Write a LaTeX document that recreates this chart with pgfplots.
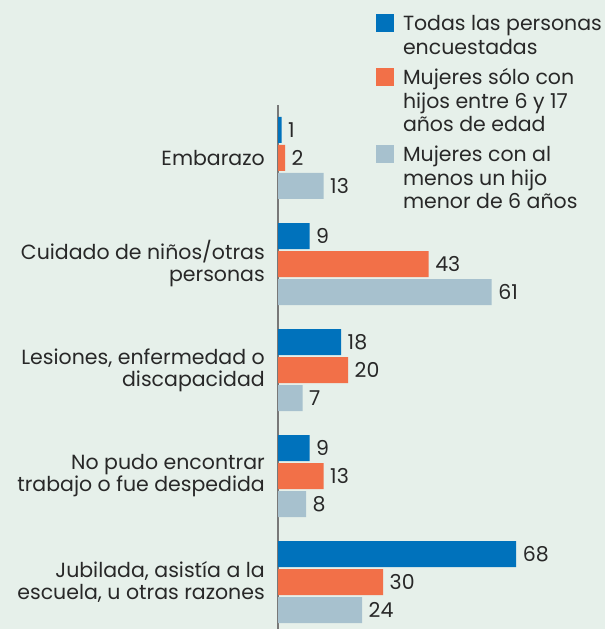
\documentclass[border=0pt]{standalone}
\usepackage{pgfplots}
\pgfplotsset{compat=1.18}
\usepackage{fontspec}
\setmainfont{Poppins}
\definecolor{bg}{RGB}{230,240,234}
\definecolor{cblue}{RGB}{0,114,188}
\definecolor{corange}{RGB}{242,112,72}
\definecolor{cgray}{RGB}{167,193,206}
\definecolor{txt}{RGB}{40,40,40}
\definecolor{axc}{RGB}{120,120,120}
\newcommand{\cf}{\fontsize{20.5}{22}\selectfont}
\newcommand{\lf}{\fontsize{20.5}{23.5}\selectfont}
\begin{document}
\begin{tikzpicture}[x=1pt,y=1pt]
\fill[bg] (0,0) rectangle (605,629);
\begin{axis}[
  at={(278pt,0pt)}, anchor=south west,
  scale only axis, width=327pt, height=524pt,
  xbar, bar width=26pt,
  xmin=0, xmax=93.4,
  ymin=-0.443, ymax=4.5,
  axis x line=none,
  axis y line*=left,
  y axis line style={draw=axc, line width=1.5pt},
  ytick={0,1,2,3,4},
  yticklabels={{Jubilada, asistía a la\\escuela, u otras razones},{No pudo encontrar\\trabajo o fue despedida},{Lesiones, enfermedad o\\discapacidad},{Cuidado de niños/otras\\personas},{Embarazo}},
  major tick length=0pt,
  yticklabel style={align=right, font=\cf, text=txt, inner sep=0pt, xshift=-13pt},
  xtick=\empty,
  /pgf/number format/assume math mode=true,
  nodes near coords,
  nodes near coords align=horizontal,
  every node near coord/.append style={font=\cf, text=txt, inner xsep=6.5pt, inner ysep=0pt, anchor=west},
  clip=false,
  legend style={at={(0.2997,1.1737)}, anchor=north west, draw=none, fill=none,
    inner sep=0pt, outer sep=0pt, column sep=9pt, row sep=6pt, font=\lf,
    cells={anchor=base west}, nodes={inner sep=0pt, text depth=, text=txt}},
]
\addplot[fill=cblue, draw=none, bar shift=28pt,
  legend image code/.code={\fill[cblue] (0pt,-1pt) rectangle (18pt,17pt);}]
  coordinates {(68,0) (9,1) (18,2) (9,3) (1,4)};
\addlegendentry{\parbox[t]{200pt}{\raggedright Todas las personas\\encuestadas\strut}}
\addplot[fill=corange, draw=none, bar shift=0pt,
  legend image code/.code={\fill[corange] (0pt,-1pt) rectangle (18pt,17pt);}]
  coordinates {(30,0) (13,1) (20,2) (43,3) (2,4)};
\addlegendentry{\parbox[t]{200pt}{\raggedright Mujeres sólo con\\hijos entre 6 y 17\\años de edad\strut}}
\addplot[fill=cgray, draw=none, bar shift=-28pt,
  legend image code/.code={\fill[cgray] (0pt,-1pt) rectangle (18pt,17pt);}]
  coordinates {(24,0) (8,1) (7,2) (61,3) (13,4)};
\addlegendentry{\parbox[t]{200pt}{\raggedright Mujeres con al\\menos un hijo\\menor de 6 años\strut}}
\end{axis}
\pgfresetboundingbox
\useasboundingbox (0,0) rectangle (605,629);
\end{tikzpicture}
\end{document}
